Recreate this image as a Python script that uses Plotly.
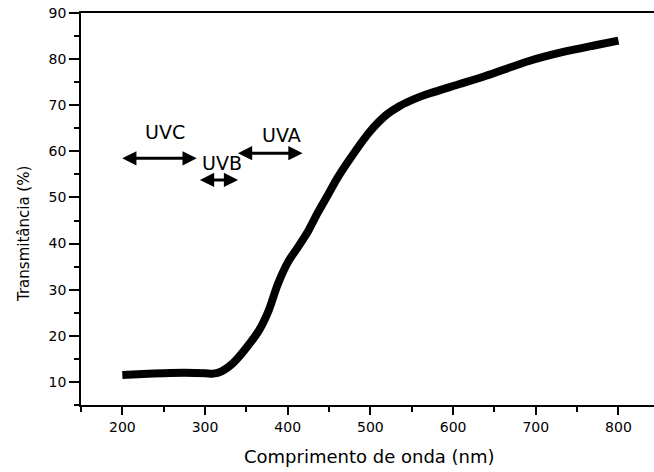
import plotly.graph_objects as go

# Data
wavelength_nm = [200, 225, 250, 275, 300, 310, 320, 334, 350, 366, 377, 388, 401, 413,
                 425, 436, 450, 460, 475, 499, 520, 535, 555, 572, 608, 640, 692, 732, 772, 800]
transmittance = [11.5, 11.7, 11.9, 12.0, 11.9, 11.8, 12.3, 14.1, 17.4, 21.4, 25.5, 31.2, 36.2, 39.4,
                 42.8, 46.6, 51.0, 54.2, 58.3, 64.2, 68.0, 69.8, 71.5, 72.6, 74.6, 76.4, 79.6, 81.5, 83.0, 84.0]

# UV band arrows
band_labels = ["UVC", "UVB", "UVA"]
band_start = [198, 292, 338]
band_end = [290, 340, 418]
band_arrow_y = [58.5, 53.8, 59.6]
band_label_x = [251.6, 320, 392.8]
band_label_y = [64.3, 57.4, 63.6]

x_title = "Comprimento de onda (nm)"
y_title = "Transmitância (%)"

FONT = "DejaVu Sans"

W, H = 654, 472
L, T, B = 81, 13, 67
pw = W - L
ph = H - T - B

fig = go.Figure()
fig.add_trace(go.Scatter(
    x=wavelength_nm, y=transmittance, mode="lines",
    line=dict(color="black", width=8, shape="spline", smoothing=0.8),
    showlegend=False, hoverinfo="skip",
))

annotations = []
for lab, xs, xe, ya, lx, ly in zip(band_labels, band_start, band_end, band_arrow_y,
                                   band_label_x, band_label_y):
    annotations.append(dict(
        x=xe, y=ya, ax=xs, ay=ya, xref="x", yref="y", axref="x", ayref="y",
        text="", showarrow=True, arrowhead=2, startarrowhead=2, arrowside="end+start",
        arrowwidth=3, arrowsize=0.95, startarrowsize=0.95, arrowcolor="black",
        standoff=0, startstandoff=0,
    ))
    annotations.append(dict(
        x=lx, y=ly, xref="x", yref="y", text=lab, showarrow=False,
        font=dict(family=FONT, size=19, color="black"),
        xanchor="center", yanchor="middle",
    ))


def paper_x(px):
    return (px - L) / pw


def paper_y(py):
    return (H - B - py) / ph


annotations.append(dict(
    x=paper_x(369), y=paper_y(456), xref="paper", yref="paper", text=x_title, showarrow=False,
    font=dict(family=FONT, size=18, color="black"), xanchor="center", yanchor="middle",
))
annotations.append(dict(
    x=paper_x(24), y=paper_y(234), xref="paper", yref="paper", text=y_title, showarrow=False,
    textangle=-90,
    font=dict(family=FONT, size=15, color="black"), xanchor="center", yanchor="middle",
))

fig.update_layout(
    width=W, height=H,
    margin=dict(l=L, r=0, t=T, b=B, pad=0),
    paper_bgcolor="white", plot_bgcolor="white",
    font=dict(family=FONT, size=14, color="black"),
    annotations=annotations,
    xaxis=dict(
        range=[150, 843], tickmode="linear", tick0=200, dtick=100,
        ticks="outside", ticklen=8, tickwidth=1.5, tickcolor="black",
        showline=True, linecolor="black", linewidth=1.5, mirror=True,
        showgrid=False, zeroline=False,
        minor=dict(ticks="outside", ticklen=5, tickwidth=1.5, tickcolor="black", dtick=50, tick0=150),
        tickfont=dict(family=FONT, size=14, color="black"),
    ),
    yaxis=dict(
        range=[5, 90], tickmode="linear", tick0=10, dtick=10,
        ticks="outside", ticklen=10, tickwidth=1.5, tickcolor="black",
        showline=True, linecolor="black", linewidth=1.5, mirror=False,
        showgrid=False, zeroline=False,
        minor=dict(ticks="outside", ticklen=5, tickwidth=1.5, tickcolor="black", dtick=5, tick0=5),
        tickfont=dict(family=FONT, size=14, color="black"),
    ),
)

fig.write_html(
    "out.html",
    config={"displayModeBar": False},
    post_script="document.body.style.margin='0';document.body.style.overflow='hidden';",
)
